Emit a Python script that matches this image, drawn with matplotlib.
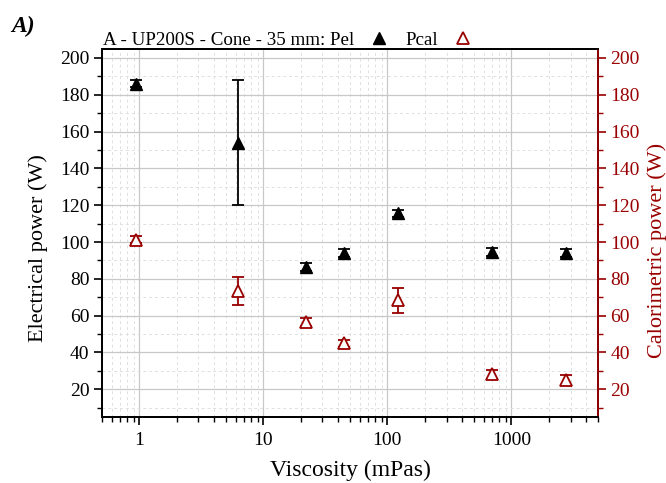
import numpy as np
import matplotlib
matplotlib.use('Agg')
import matplotlib.pyplot as plt
from matplotlib.ticker import LogLocator, MultipleLocator, NullFormatter

plt.rcParams['font.family'] = ['Liberation Serif', 'DejaVu Serif']

viscosity = [0.945, 6.3, 22.2, 45, 123, 703, 2780]
p_el = [186, 154, 86.5, 94, 115.5, 94.5, 94]
p_el_err = [2, 34, 2, 2, 2, 2, 2]
p_cal = [101.3, 73.5, 56.5, 45, 68.3, 28.2, 25]
p_cal_err = [2, 7.5, 2, 2, 6.8, 2.5, 2.5]

RED = '#990000'

fig = plt.figure(figsize=(6.66, 4.83), dpi=100)
ax = fig.add_axes([0.153, 0.137, 0.745, 0.762])
ax2 = ax.twinx()

h1 = ax.errorbar(viscosity, p_el, yerr=p_el_err, fmt='^', color='black',
                 markersize=8, capsize=4, elinewidth=1.3, capthick=1.3,
                 zorder=5)
h2 = ax2.errorbar(viscosity, p_cal, yerr=p_cal_err, fmt='^', color=RED,
                  mfc='white', mec=RED, markersize=8, capsize=4,
                  elinewidth=1.3, capthick=1.3, markeredgewidth=1.3,
                  zorder=5)

for a in (ax, ax2):
    a.set_xscale('log')
    a.set_xlim(0.5, 5000)
    a.set_ylim(5, 205)
    a.yaxis.set_major_locator(MultipleLocator(20))
    a.yaxis.set_minor_locator(MultipleLocator(10))

ax.xaxis.set_minor_locator(LogLocator(base=10, subs=np.arange(2, 10), numticks=20))
ax.xaxis.set_minor_formatter(NullFormatter())
ax.set_xticks([1, 10, 100, 1000])
ax.set_xticklabels(['1', '10', '100', '1000'])

ax.grid(True, which='major', color='#c8c8c8', linewidth=0.9, linestyle='-')
ax.grid(True, which='minor', color='#e0e0e0', linewidth=0.7, linestyle=(0, (3, 3)))
ax.set_axisbelow(True)

ax.tick_params(axis='both', which='major', direction='out', length=6,
               width=1.2, labelsize=14)
ax.tick_params(axis='both', which='minor', direction='out', length=3.5,
               width=1.0)
ax.tick_params(axis='x', pad=5)
ax.tick_params(axis='y', pad=3)
ax2.tick_params(axis='y', which='major', direction='out', length=6,
                width=1.2, labelsize=14, colors=RED, pad=3)
ax2.tick_params(axis='y', which='minor', direction='out', length=3.5,
                width=1.0, colors=RED)

for s in ax.spines.values():
    s.set_linewidth(1.3)
for s in ax2.spines.values():
    s.set_linewidth(1.3)
ax2.spines['right'].set_color(RED)

ax.set_xlabel('Viscosity (mPas)', fontsize=17)
ax.set_ylabel('Electrical power (W)', fontsize=16)
ax2.set_ylabel('Calorimetric power (W)', fontsize=16, color=RED)
ax.xaxis.set_label_coords(0.5, -0.117)
ax.yaxis.set_label_coords(-0.109, 0.459)
ax2.yaxis.set_label_coords(1.099, 0.451)

fig.legend([h1[0], h2[0]], ['A - UP200S - Cone - 35 mm: Pel', 'Pcal'],
           loc='lower left', bbox_to_anchor=(0.134, 0.871), ncol=2,
           markerfirst=False, frameon=False, fontsize=13.7,
           handlelength=1.0, handletextpad=0.82, columnspacing=0.9,
           borderpad=0.2)

fig.text(0.017, 0.933, 'A)', fontsize=17, fontweight='bold',
         fontstyle='italic')

fig.savefig('out.png', dpi=100)
